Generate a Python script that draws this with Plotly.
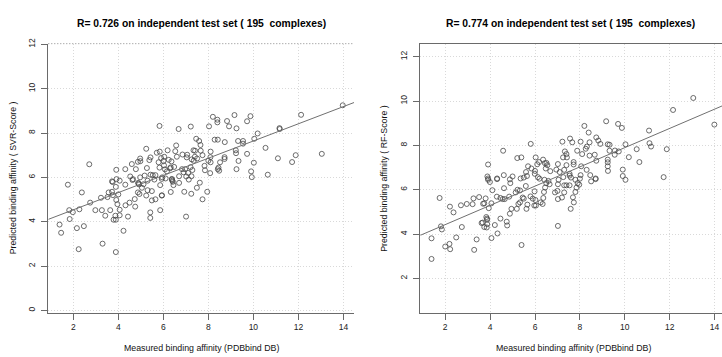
import numpy as np
import plotly.graph_objects as go

# ---------------- data ----------------
svr_measured = [
    13.97, 12.12, 8.2, 8.4, 8.4, 8.83, 9.16, 9.72, 9.87, 5.83, 6.68, 7.22, 8.03, 8.92, 9.25, 11.16, 11.17, 10.19, 10.04, 7.46, 7.59, 8.28, 8.42, 8.73, 9.32, 9.54, 9.54,
    7.65, 6.57, 10.54, 5.24, 7.34, 7.41, 7.66, 6.19, 5.71, 5.84, 6.53, 6.85, 7.06, 6.6, 6.04, 5.43, 5.38, 4.97, 4.98, 5.9, 6.24, 6.36, 7.04, 7.26, 7.4, 7.74, 8.1, 8.09, 8.0, 8.72, 8.72, 8.52, 9.22, 9.23, 9.72, 9.34, 10.02, 11.09, 11.72, 11.88, 13.04, 2.71, 4.6, 4.87, 6.03, 7.83, 6.48, 5.79, 6.01, 7.35, 7.5, 8.1,
    3.91, 4.31, 4.78, 5.27, 5.83, 6.07, 6.33, 6.83, 6.9, 7.21, 7.29, 7.85, 8.45, 8.42, 8.48, 9.25, 9.9, 10.64, 8.08, 9.93, 5.53, 5.65, 5.17, 7.02, 4.53, 6.16, 6.3, 6.97, 7.1, 7.25, 4.97, 5.43,
    4.65, 5.95, 6.1, 6.38, 5.93, 7.13, 6.38, 6.4, 6.42, 6.45, 3.75, 4.06, 3.89, 3.72, 3.92, 4.31, 4.9, 4.92, 4.88, 4.63, 1.76, 5.86, 5.05, 7.49, 7.62, 5.12, 6.7, 5.3,
    2.38, 2.75, 1.82, 1.98, 2.27, 1.84, 1.39, 1.46, 2.16, 2.47, 2.24, 3.3, 3.89, 4.23, 2.98, 3.27, 3.42, 3.64, 3.79, 3.89, 3.87, 4.06, 4.06, 4.43, 4.32, 4.5, 4.75, 4.73, 4.87, 5.3, 5.42, 5.42, 5.65, 5.86, 5.94, 6.93, 7.01, 7.24, 7.95, 7.74, 3.72, 3.76, 4.0, 3.52, 3.23, 3.91, 3.96, 5.49, 5.24, 4.94, 5.49, 5.93, 3.57, 6.33, 6.7, 5.6,
]
svr_predicted = [
    9.25, 8.82, 8.73, 8.6, 8.48, 8.54, 8.81, 8.53, 8.76, 8.32, 8.18, 8.29, 8.3, 8.3, 8.21, 8.22, 8.18, 7.98, 7.74, 7.74, 7.64, 7.7, 7.7, 7.59, 7.64, 7.64, 7.52,
    7.46, 7.44, 7.33, 7.29, 7.22, 7.2, 7.2, 7.22, 7.11, 7.16, 7.18, 7.03, 7.02, 6.93, 6.93, 6.9, 6.78, 6.85, 6.73, 6.87, 6.79, 6.72, 6.9, 6.81, 6.93, 7.0, 7.16, 6.91, 6.75, 6.91, 6.83, 6.68, 7.22, 7.09, 7.06, 6.74, 6.66, 6.86, 6.69, 7.0, 7.06, 6.59, 6.6, 6.7, 6.54, 6.52, 6.47, 6.68, 6.74, 6.75, 6.85, 6.68,
    6.34, 6.37, 6.37, 6.42, 6.44, 6.36, 6.45, 6.37, 6.23, 6.46, 6.33, 6.32, 6.44, 6.37, 6.3, 6.37, 6.27, 6.12, 6.19, 6.01, 6.1, 6.1, 6.08, 6.04, 6.04, 6.27, 6.41, 6.37, 6.2, 6.05, 6.0, 6.12,
    5.92, 6.0, 5.95, 5.93, 5.93, 5.9, 5.9, 5.85, 5.8, 5.65, 5.79, 5.85, 5.57, 5.82, 5.92, 5.67, 5.72, 5.68, 5.75, 5.88, 5.67, 5.65, 5.53, 5.53, 5.76, 5.69, 5.75, 5.85,
    5.32, 4.86, 4.52, 4.43, 4.56, 4.12, 3.87, 3.5, 3.71, 3.8, 2.76, 3.01, 2.63, 3.59, 4.52, 4.52, 4.27, 4.52, 4.09, 4.09, 4.27, 4.54, 4.29, 4.23, 4.74, 4.86, 4.68, 5.02, 5.32, 5.42, 4.42, 4.17, 5.01, 4.52, 5.19, 5.35, 4.23, 5.26, 5.35, 5.01, 5.35, 5.2, 5.23, 5.11, 5.08, 4.98, 4.79, 5.38, 5.18, 5.25, 4.96, 5.18, 5.32, 5.34, 6.05, 5.9,
]

rf_measured = [
    13.05, 12.15, 13.99, 9.17, 9.7, 9.87, 8.2, 8.39, 11.08, 7.56, 7.66, 8.03, 8.43, 8.73, 8.82, 8.91, 9.24, 9.32, 10.03, 11.1, 11.17, 9.32, 9.56, 9.73, 9.55, 10.53, 11.87, 8.1, 8.43, 8.66, 8.31, 8.26, 7.88, 10.18, 7.22, 5.81, 4.58, 7.33, 7.4,
    10.65, 9.24, 9.24, 9.24, 8.73, 9.91, 9.91, 10.03, 11.73, 7.72, 7.72, 8.06, 8.03, 8.46, 8.7, 7.54, 3.91, 5.21, 5.39, 6.03, 6.18, 6.36, 6.51, 6.55, 6.48, 6.68, 6.95, 7.02, 7.25, 7.42, 7.4, 5.69, 5.84, 5.99, 6.13, 4.61, 4.88, 4.31, 3.91, 5.36, 5.64, 6.2, 6.42, 6.6, 7.26, 7.54, 3.88, 5.0, 5.5, 5.6, 6.0, 7.1, 7.3, 8.3, 9.25, 7.6, 7.8, 8.0, 7.05, 6.1, 6.44,
    1.39, 1.39, 1.81, 1.85, 1.75, 2.0, 2.19, 2.22, 2.49, 2.37, 2.21, 2.7, 2.96, 3.22, 2.74, 3.29, 3.4, 3.26, 3.51, 3.74, 3.8, 3.69, 4.1, 3.91, 3.99, 4.31, 3.62, 3.67, 3.74, 3.85, 3.83, 3.86, 3.87, 3.87, 3.94, 4.06, 4.06, 4.21, 4.33, 4.3, 4.46, 4.56, 4.46, 4.65, 4.74, 4.76, 4.85, 4.62, 4.88, 4.95, 4.9, 5.14, 5.22, 5.19, 5.26, 5.33, 5.4, 5.45, 5.5, 5.33, 5.62, 5.59, 5.66, 5.8, 5.9, 6.02, 5.97, 6.04, 5.98, 6.25, 6.34, 6.37, 6.4, 6.45, 6.5, 6.65, 6.89, 7.0, 7.02, 7.02, 7.2, 7.3, 7.02, 7.3, 7.4, 7.59, 7.69, 7.73, 7.8, 7.85, 7.9, 8.5, 8.7, 7.54, 7.97,
]
rf_predicted = [
    10.14, 9.6, 8.94, 9.09, 8.97, 8.79, 8.88, 8.58, 8.67, 8.31, 8.14, 8.17, 8.14, 8.36, 8.22, 8.07, 8.05, 8.03, 8.05, 8.1, 7.95, 7.76, 7.77, 7.73, 7.58, 7.83, 7.83, 7.61, 7.54, 7.58, 7.95, 7.85, 7.76, 7.47, 8.17, 8.07, 7.76, 7.73, 7.61,
    7.25, 7.36, 7.24, 7.06, 7.31, 6.91, 6.62, 6.45, 6.57, 7.25, 7.14, 7.06, 6.66, 6.66, 6.51, 6.64, 7.14, 7.43, 7.46, 7.46, 7.25, 7.36, 7.21, 7.11, 6.96, 6.84, 6.91, 7.16, 7.46, 7.46, 7.11, 7.06, 6.96, 6.72, 6.57, 6.66, 6.47, 6.51, 6.51, 6.51, 6.62, 6.5, 6.45, 6.4, 6.57, 6.72, 6.6, 6.6, 6.55, 6.8, 6.85, 6.8, 6.9, 6.9, 6.85, 6.55, 6.45, 6.5, 6.45, 7.15, 7.2,
    2.88, 3.81, 4.35, 4.21, 5.63, 3.44, 3.56, 3.32, 3.85, 4.98, 5.24, 5.3, 5.36, 5.35, 4.32, 3.29, 3.76, 5.61, 5.67, 5.39, 5.61, 5.37, 5.98, 6.45, 6.35, 6.48, 4.5, 4.52, 4.32, 4.3, 4.77, 4.7, 4.65, 4.45, 5.17, 3.82, 5.39, 4.41, 4.03, 5.69, 5.63, 5.58, 4.7, 5.58, 4.56, 4.39, 5.69, 6.07, 4.92, 5.14, 6.3, 5.88, 6.0, 5.14, 5.36, 5.43, 3.51, 5.65, 5.6, 5.97, 5.14, 6.17, 5.33, 5.7, 5.6, 5.54, 5.29, 5.29, 5.93, 5.43, 5.36, 5.63, 5.9, 6.1, 6.3, 6.25, 5.88, 5.95, 4.37, 5.58, 5.65, 5.88, 6.25, 6.2, 6.2, 5.14, 5.66, 5.43, 5.9, 6.1, 6.3, 6.38, 6.48, 6.2, 6.23,
]

# fitted lines (intercept, slope)
svr_fit = [3.76, 0.388]
rf_fit = [3.56, 0.434]

titles = ["R= 0.726 on independent test set ( 195  complexes)",
          "R= 0.774 on independent test set ( 195  complexes)"]
x_label = "Measured binding affinity (PDBbind DB)"
y_labels = ["Predicted binding affinity ( SVR-Score )",
            "Predicted binding affinity ( RF-Score )"]
x_ticks = [2, 4, 6, 8, 10, 12, 14]
y_ticks_left = [0, 2, 4, 6, 8, 10, 12]
y_ticks_right = [2, 4, 6, 8, 10, 12]

# ---------------- layout constants ----------------
W, H = 722, 357
FONT = "Liberation Sans, Arial, sans-serif"


def px(page_x):
    return page_x / W


def py(page_y):
    return (H - page_y) / H


left_x_range = [0.89, 14.47]
left_y_range = [-0.12, 12.03]
right_x_range = [0.89, 14.33]
right_y_range = [0.44, 12.59]
left_dom = [px(48.3), px(354.0)]
right_dom = [px(420.3), 1.0]
y_dom = [py(312.3), py(38.3)]

fig = go.Figure()

marker = dict(symbol="circle-open", size=5, color="#474747", line=dict(width=0.8, color="#474747"))

fig.add_trace(go.Scatter(x=svr_measured, y=svr_predicted, mode="markers", marker=marker,
                         xaxis="x", yaxis="y", showlegend=False, cliponaxis=True))
fig.add_trace(go.Scatter(x=rf_measured, y=rf_predicted, mode="markers", marker=marker,
                         xaxis="x2", yaxis="y2", showlegend=False, cliponaxis=True))

lx = np.array(left_x_range)
fig.add_trace(go.Scatter(x=lx, y=svr_fit[0] + svr_fit[1] * lx, mode="lines",
                         line=dict(color="#707070", width=1), xaxis="x", yaxis="y", showlegend=False))
rx = np.array(right_x_range)
fig.add_trace(go.Scatter(x=rx, y=rf_fit[0] + rf_fit[1] * rx, mode="lines",
                         line=dict(color="#707070", width=1), xaxis="x2", yaxis="y2", showlegend=False))

axis_common = dict(
    showline=True, linecolor="#6a6a6a", linewidth=1,
    ticks="outside", ticklen=6, tickcolor="#6a6a6a", tickwidth=1,
    showgrid=True, gridcolor="#d9d9d9", griddash="1px,2px", gridwidth=1,
    zeroline=False, tickfont=dict(family=FONT, size=8.5, color="#222"),
)

fig.update_layout(
    width=W, height=H,
    margin=dict(l=0, r=0, t=0, b=0),
    paper_bgcolor="white", plot_bgcolor="white",
    font=dict(family=FONT, color="#111"),
    xaxis=dict(domain=left_dom, range=left_x_range, tickvals=x_ticks, anchor="y", **axis_common),
    yaxis=dict(domain=y_dom, range=left_y_range, tickvals=y_ticks_left, anchor="x", tickangle=-90,
               ticklabelstandoff=3, **axis_common),
    xaxis2=dict(domain=right_dom, range=right_x_range, tickvals=x_ticks, anchor="y2", mirror=True, **axis_common),
    yaxis2=dict(domain=y_dom, range=right_y_range, tickvals=y_ticks_right, anchor="x2", tickangle=-90,
                ticklabelstandoff=3, **axis_common),
)

# dotted top edge of the left panel
fig.add_shape(type="line", xref="x domain", yref="y domain", x0=0, x1=1, y0=1, y1=1,
              line=dict(color="#8a8a8a", width=1, dash="1px,2px"))

ann = []
for t, tx in zip(titles, [px(201), px(570)]):
    ann.append(dict(text="<b>" + t + "</b>", x=tx, y=py(18), xref="paper", yref="paper",
                    showarrow=False, xanchor="center", yanchor="middle",
                    font=dict(family=FONT, size=10.3, color="#000")))
for cx in [px(201), px(573)]:
    ann.append(dict(text=x_label, x=cx, y=py(348), xref="paper", yref="paper",
                    showarrow=False, xanchor="center", yanchor="middle",
                    font=dict(family=FONT, size=8.8, color="#111")))
for lab, lx_ in zip(y_labels, [13.0, 384.5]):
    ann.append(dict(text=lab, x=px(lx_), y=(y_dom[0] + y_dom[1]) / 2, xref="paper", yref="paper",
                    showarrow=False, xanchor="center", yanchor="middle", textangle=-90,
                    font=dict(family=FONT, size=8.8, color="#111")))
fig.update_layout(annotations=ann)

# remove the browser's default 8px body margin so the figure fills the window exactly
fig.write_html("out.html",
               config={"displayModeBar": False},
               post_script="document.body.style.margin='0px';document.body.style.overflow='hidden';")
